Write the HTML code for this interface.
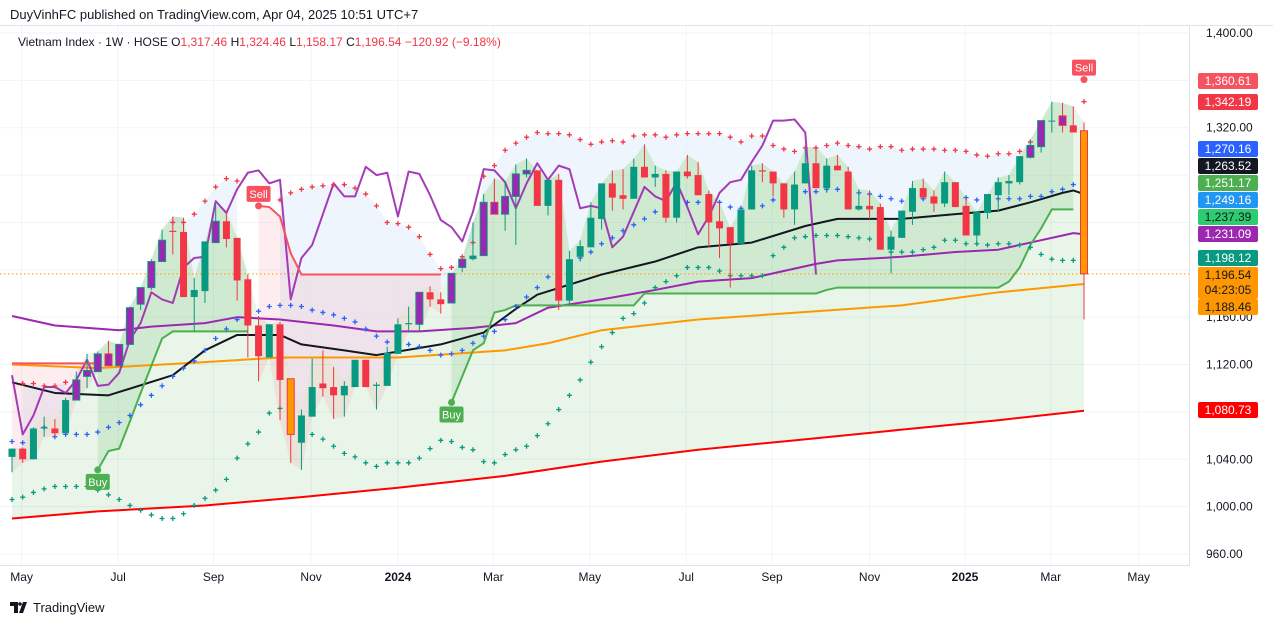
<!DOCTYPE html>
<html><head><meta charset="utf-8"><style>
html,body{margin:0;padding:0;background:#fff;}
body{width:1273px;height:626px;overflow:hidden;font-family:"Liberation Sans",sans-serif;}
svg text{font-family:"Liberation Sans",sans-serif;}
</style></head><body>
<svg id="chart" width="1273" height="626" viewBox="0 0 1273 626" xmlns="http://www.w3.org/2000/svg">
<rect x="0" y="0" width="1273" height="626" fill="#fff"/>
<text x="10" y="19" font-size="13" fill="#131722">DuyVinhFC published on TradingView.com, Apr 04, 2025 10:51 UTC+7</text>
<line x1="0" y1="25.5" x2="1273" y2="25.5" stroke="#e0e3eb"/>
<g id="grid"></g>
<g id="plot"></g>
<line x1="1189.5" y1="26" x2="1189.5" y2="566" stroke="#e0e3eb"/>
<line x1="0" y1="565.5" x2="1189" y2="565.5" stroke="#e0e3eb"/>
<g id="axes"></g>
<text x="18" y="46" font-size="12" fill="#131722">Vietnam Index · 1W · HOSE  <tspan>O</tspan><tspan fill="#f23645">1,317.46</tspan>  <tspan>H</tspan><tspan fill="#f23645">1,324.46</tspan>  <tspan>L</tspan><tspan fill="#f23645">1,158.17</tspan>  <tspan>C</tspan><tspan fill="#f23645">1,196.54  −120.92 (−9.18%)</tspan></text>
<g>
<path d="M10 602h8v11h-4v-7h-4z M19 613l4-11h4l-4 11z" fill="#131722"/>
<circle cx="20" cy="604" r="1.8" fill="#131722"/>
<text x="33" y="612" font-size="13" fill="#131722">TradingView</text>
</g>
</svg>
<script>
// ---------- DATA ----------
const opens=[1042,1049,1040,1066,1066,1062,1090,1110,1114,1129,
1119,1137,1171,1185,1207,1232,1232,1177,1182,1223,
1241,1227,1192,1153,1126,1154,1108,1054,1076,1104,
1101,1094,1101,1124,1102,1102,1129,1154,1154,1181,
1175,1172,1202,1209,1212,1257,1247,1262,1281,1284,
1254,1276,1174,1211,1219,1243,1273,1263,1260,1287,
1278,1281,1244,1283,1280,1264,1241,1236,1222,1251,
1284,1283,1273,1251,1273,1290,1269,1288,1283,1251,
1254,1253,1217,1227,1249,1269,1262,1256,1274,1254,
1229,1248,1263,1273,1274,1295,1304,1326,1330,1322,
1317.46];
const closes=[1049,1040,1066,1067,1062,1090,1107,1115,1129,1119,
1137,1168,1185,1207,1225,1233,1177,1183,1224,1241,
1226,1191,1153,1127,1154,1107,1061,1077,1101,1100,
1094,1102,1124,1101,1103,1130,1154,1155,1181,1175,
1171,1197,1209,1212,1257,1247,1262,1281,1284,1254,
1276,1174,1209,1220,1244,1273,1261,1260,1287,1278,
1281,1244,1283,1279,1263,1240,1235,1222,1251,1284,
1283,1273,1251,1272,1290,1269,1288,1284,1251,1254,
1251,1217,1228,1250,1269,1261,1256,1274,1253,1229,
1249,1264,1274,1275,1296,1305,1326,1326,1322,1316,
1196.54];
const highs=[1049,1050,1067,1076,1074,1092,1114,1129,1131,1140,
1137,1169,1185,1209,1234,1245,1244,1193,1224,1255,
1250,1227,1196,1161,1154,1156,1108,1082,1125,1132,
1118,1106,1124,1124,1105,1135,1159,1169,1181,1186,
1181,1197,1209,1240,1264,1277,1275,1289,1294,1284,
1276,1281,1216,1225,1257,1273,1284,1285,1294,1306,
1288,1284,1283,1297,1291,1267,1257,1236,1251,1288,
1290,1283,1273,1283,1303,1304,1294,1297,1287,1268,
1267,1256,1233,1250,1275,1277,1267,1283,1274,1261,
1249,1264,1278,1280,1296,1310,1326,1342,1341,1338,
1324.46];
const lows=[1029,1037,1040,1059,1059,1062,1090,1100,1114,1119,
1119,1137,1166,1183,1207,1213,1177,1148,1172,1223,
1219,1174,1126,1106,1126,1073,1037,1031,1076,1093,
1074,1076,1101,1101,1082,1102,1129,1147,1148,1169,
1163,1172,1198,1208,1212,1247,1233,1221,1278,1254,
1246,1166,1170,1207,1219,1234,1250,1251,1260,1278,
1270,1240,1240,1277,1263,1219,1210,1185,1222,1251,
1274,1262,1244,1238,1273,1269,1265,1284,1251,1250,
1243,1217,1197,1227,1238,1261,1249,1253,1253,1229,
1220,1243,1249,1263,1272,1294,1299,1316,1316,1316,
1158.17];
// candle highlight: g/r normal, p purple (up), q purple (down), o orange
const candleTypes=['g','r','g','g','r','g','p','p','p','q',
'p','p','p','p','p','r','r','g','g','p',
'r','r','r','r','g','r','o','g','g','r',
'r','g','g','r','g','g','g','g','p','r',
'r','p','p','g','p','q','p','p','p','r',
'g','r','g','g','g','g','r','r','g','r',
'g','r','g','r','r','r','r','r','g','g',
'r','r','r','g','g','r','g','r','r','g',
'r','r','g','g','g','r','r','g','r','r',
'g','g','g','g','g','p','p','g','q','r','o'];
const maLongIdx=[0,8,18,27,36,46,55,64,73,83,92,100];
const maLongVal=[990,996,1001,1008,1016,1026,1038,1048,1056,1065,1073,1081];
const maOrangeIdx=[0,8,18,25,36,46,50,55,64,75,83,92,100];
const maOrangeVal=[1120,1117,1122,1126,1126,1132,1138,1149,1158,1165,1170,1181,1188];
const maBlackIdx=[0,4,9,15,18,21,25,27,31,34,40,44,47,49,55,60,64,69,74,77,83,88,92,95,98,99,100];
const maBlackVal=[1105,1096,1094,1111,1132,1145,1145,1137,1132,1128,1137,1147,1167,1179,1196,1207,1219,1223,1237,1243,1243,1247,1250,1257,1265,1267,1264];
const maPurpleIdx=[0,4,10,13,18,21,25,30,34,38,43,47,50,55,60,64,69,75,77,83,88,92,95,98,99,100];
const maPurpleVal=[1161,1153,1149,1152,1155,1160,1158,1153,1148,1148,1151,1155,1168,1175,1183,1190,1193,1205,1208,1211,1215,1217,1223,1229,1231,1230];
const zigzagVal=[1111,1061,1077,1101,1101,1096,1107,1124,1102,1103,
1113,1141,1155,1181,1175,1172,1202,1210,1211,1258,
1248,1268,1282,1284,1273,1276,1175,1210,1221,1247,
1273,1262,1262,1287,1280,1282,1245,1283,1281,1263,
1242,1236,1224,1249,1285,1284,1274,1252,1273,1290,
1276,1288,1285,1252,1254,1252,1219,1228,1249,1270,
1262,1258,1274,1253,1230,1245,1265,1274,1276,1291,
1305,1326,1326,1327,1316,1196];
const N=null;
const stepDown=[1121,1121,1121,1121,1121,1121,1121,1121,1121,N,
N,N,N,N,N,N,N,N,N,N,
N,N,N,1254,1253,1245,1214,1196,1196,1196,
1196,1196,1196,1196,1196,1196,1196,1196,1196,1196,
1196,N,N,N,N,N,N,N,N,N,
N,N,N,N,N,N,N,N,N,N,N,N,N,N,N,N,N,N,N,N,
N,N,N,N,N,N,N,N,N,N,N,N,N,N,N,N,N,N,N,N,
N,N,N,N,N,N,N,N,N,N,N];
const stepUp=[N,N,N,N,N,N,N,N,1031,1047,
1049,1072,1096,1119,1142,1148,1148,1148,1148,1148,
1148,1148,1148,N,N,N,N,N,N,N,
N,N,N,N,N,N,N,N,N,N,
N,1088,1110,1132,1138,1164,1166,1170,1170,1170,
1170,1170,1170,1170,1170,1170,1170,1170,1170,1180,
1180,1180,1180,1180,1180,1180,1180,1180,1180,1180,
1180,1180,1180,1180,1180,1180,1183,1185,1185,1185,
1185,1185,1185,1185,1185,1185,1185,1185,1185,1185,
1185,1185,1185,1190,1202,1221,1235,1251,1251,1251,N];
const upperDots=[N,1104,1104,1102,1102,1105,N,N,N,N,
N,N,N,N,N,1240,1240,1247,1258,1270,
1277,1275,N,N,N,1259,1265,1268,1270,1271,
1272,1272,1269,1264,1254,1240,1239,1236,1228,1213,
1201,1202,1211,1223,1279,1288,1301,1307,1312,1316,
1315,1315,1314,1310,1306,1308,1309,1308,1313,1314,
1314,1312,1314,1315,1315,1315,1315,1312,1308,1313,
1313,1305,1302,1300,1303,1303,1305,1307,1305,1304,
1302,1304,1304,1301,1302,1302,1302,1301,1301,1300,
1297,1296,1298,1298,1300,1308,N,N,N,N,1342];
const midDots=[1055,1054,1060,1067,1059,1061,1061,1061,1063,1067,
1071,1077,1086,1094,1102,1110,1117,1123,1132,1142,
1150,1158,1162,1165,1169,1170,1170,1169,1166,1164,
1162,1159,1156,1150,1144,1139,1137,1137,1135,1132,
1128,1129,1132,1138,1144,1148,1158,1169,1177,1185,
1194,1200,1205,1210,1215,1222,1227,1233,1238,1243,
1249,1253,1256,1257,1257,1257,1257,1253,1252,1253,
1254,1259,1262,1264,1266,1266,1268,1268,1267,1265,
1264,1262,1260,1258,1259,1260,1260,1260,1261,1261,
1259,1260,1260,1260,1260,1262,1262,1266,1268,1272,N];
const lowDots=[1006,1008,1012,1015,1017,1017,1017,1017,1014,1010,
1006,1001,997,993,990,990,994,1001,1007,1014,
1023,1041,1053,1063,1079,1083,1069,1065,1061,1057,
1051,1045,1042,1037,1034,1037,1037,1037,1041,1049,
1056,1055,1050,1048,1038,1037,1044,1048,1051,1060,
1070,1082,1094,1107,1122,1135,1147,1159,1163,1172,
1185,1190,1195,1202,1202,1202,1199,1195,1195,1195,
1195,1212,1219,1227,1228,1229,1229,1229,1228,1227,
1226,1221,1215,1215,1215,1217,1219,1225,1225,1222,
1222,1221,1222,1222,1221,1219,1213,1209,1208,1208,N];
const signalTypes=['Buy','Sell','Buy','Sell'];
const signalIdx=[8,23,41,100];
const signalPrice=[1031,1254,1088,1360.61];
const priceTicks=[1400,1320,1160,1120,1040,1000,960];
const gridPrices=[1400,1360,1320,1280,1240,1200,1160,1120,1080,1040,1000,960];
const monthLabels=['May','Jul','Sep','Nov','2024','Mar','May','Jul','Sep','Nov','2025','Mar','May'];
const monthIdx=[0.9,9.9,18.8,27.9,36,44.9,53.9,62.9,70.9,80,88.9,96.9,105.1];
const tagPrices=[1360.61,1342.19,1270.16,1263.52,1251.17,1249.16,1237.39,1231.09,1198.12,1188.46,1080.73];
const tagColors=['#f7525f','#f23645','#2962ff','#131722','#4caf50','#2196f3','#2ecc71','#9c27b0','#089981','#ff9800','#f00'];
const tagTextColors=['#fff','#fff','#fff','#fff','#fff','#fff','#131722','#fff','#fff','#131722','#fff'];
const tagY=[81,102,149,166,183,200,217,234,258,307,410];
const lastPrice=1196.54;

// ---------- SCALES ----------
const NS='http://www.w3.org/2000/svg';
function X(i){return 12+i*10.72;}
function Y(p){return 33+(1400-p)*1.1841;}
const plot=document.getElementById('plot');
const grid=document.getElementById('grid');
const axes=document.getElementById('axes');
function mk(tag,attrs,parent){const e=document.createElementNS(NS,tag);for(const k in attrs)e.setAttribute(k,attrs[k]);(parent||plot).appendChild(e);return e;}
function interp(idx,val,i){for(let k=0;k<idx.length-1;k++){if(i>=idx[k]&&i<=idx[k+1]){const t=(i-idx[k])/(idx[k+1]-idx[k]);return val[k]+t*(val[k+1]-val[k]);}}return val[val.length-1];}
function segments(arr){const segs=[];let cur=[];arr.forEach((v,i)=>{if(v===null){if(cur.length)segs.push(cur);cur=[];}else cur.push(i);});if(cur.length)segs.push(cur);return segs;}

// grid
gridPrices.forEach(p=>{const l=mk('line',{x1:0,x2:1189,y1:Y(p),y2:Y(p),stroke:'#f0f3fa'},grid);

});
monthIdx.forEach(i=>{const l=mk('line',{x1:X(i),x2:X(i),y1:26,y2:565,stroke:'#f0f3fa'},grid);

});

// blue cloud (upper dots to highs)
segments(upperDots).forEach(s=>{if(s.length<2)return;let pts=s.map(i=>X(i)+','+Y(upperDots[i]));pts=pts.concat(s.slice().reverse().map(i=>X(i)+','+Y(highs[i])));
const pg=mk('polygon',{points:pts.join(' '),fill:'#eaf2fb',opacity:0.75});

});
// light green fill highs -> long MA
{const all=highs.map((h,i)=>i);let pts=all.map(i=>X(i)+','+Y(highs[i]));pts=pts.concat(all.slice().reverse().map(i=>X(i)+','+Y(interp(maLongIdx,maLongVal,i))));
const pg=mk('polygon',{points:pts.join(' '),fill:'rgba(76,175,80,0.13)'});

}
// darker green between highs and step-up
segments(stepUp).forEach(s=>{let pts=s.map(i=>X(i)+','+Y(highs[i]));pts=pts.concat(s.slice().reverse().map(i=>X(i)+','+Y(stepUp[i])));
const pg=mk('polygon',{points:pts.join(' '),fill:'rgba(76,175,80,0.15)'});

});
// pink between step-down and lows
segments(stepDown).forEach(s=>{let pts=s.map(i=>X(i)+','+Y(stepDown[i]));pts=pts.concat(s.slice().reverse().map(i=>X(i)+','+Y(Math.min(lows[i],stepDown[i]))));
const pg=mk('polygon',{points:pts.join(' '),fill:'rgba(242,54,69,0.09)'});

});

// last price dotted line
{const l=mk('line',{x1:0,x2:1189,y1:Y(lastPrice),y2:Y(lastPrice),stroke:'#ff9800','stroke-dasharray':'1.5,2.5'});

}

function sparseLine(idx,val,color,w,name){const pts=idx.map((i,k)=>X(i)+','+Y(val[k])).join(' ');
const pl=mk('polyline',{points:pts,fill:'none',stroke:color,'stroke-width':w,'stroke-linejoin':'round'});

}
sparseLine(maLongIdx,maLongVal,'#f00',2,'ma-long-red');
sparseLine(maOrangeIdx,maOrangeVal,'#ff9800',2,'ma-orange');
sparseLine(maPurpleIdx,maPurpleVal,'#9c27b0',2,'ma-purple');
sparseLine(maBlackIdx,maBlackVal,'#131722',2,'ma-black');
{const pts=zigzagVal.map((v,i)=>X(i)+','+Y(v)).join(' ');
const pl=mk('polyline',{points:pts,fill:'none',stroke:'#9c27b0','stroke-width':2,opacity:0.9,'stroke-linejoin':'round'});

}
segments(stepUp).forEach(s=>{const pl=mk('polyline',{points:s.map(i=>X(i)+','+Y(stepUp[i])).join(' '),fill:'none',stroke:'#4caf50','stroke-width':2});

});
segments(stepDown).forEach(s=>{const pl=mk('polyline',{points:s.map(i=>X(i)+','+Y(stepDown[i])).join(' '),fill:'none',stroke:'#f7525f','stroke-width':2});

});

function crosses(arr,color,name){arr.forEach((v,i)=>{if(v===null)return;const cx=X(i),cy=Y(v);
const p=mk('path',{d:`M${cx-2.5} ${cy}h5M${cx} ${cy-2.5}v5`,stroke:color,'stroke-width':1.3});

});}
crosses(lowDots,'#089981','lower-dot');
crosses(midDots,'#2962ff','middle-dot');
crosses(upperDots,'#f23645','upper-dot');

// candles
const fills={g:'#089981',r:'#f23645',p:'#9c27b0',q:'#9c27b0',o:'#ff9800'};
const borders={g:'#089981',r:'#f23645',p:'#089981',q:'#f23645',o:'#f23645'};
opens.forEach((o,i)=>{const c=closes[i],t=candleTypes[i];const cx=X(i);const wick=(t==='g'||t==='p')?'#089981':'#f23645';
const w=mk('line',{x1:cx,x2:cx,y1:Y(highs[i]),y2:Y(lows[i]),stroke:wick,'stroke-width':1});


const top=Y(Math.max(o,c)),bot=Y(Math.min(o,c));
const b=mk('rect',{x:cx-3.5,y:top,width:7,height:Math.max(1,bot-top),fill:fills[t],stroke:borders[t],'stroke-width':(t==='g'||t==='r')?0:1});

});

// signals
signalTypes.forEach((s,k)=>{const cx=X(signalIdx[k]),cy=Y(signalPrice[k]);const col=s==='Buy'?'#4caf50':'#f7525f';
const g=mk('g',{});


mk('circle',{cx:cx,cy:cy,r:3.5,fill:col},g);
const by=s==='Buy'?cy+4:cy-20;
mk('rect',{x:cx-12,y:by,width:24,height:16,rx:2,fill:col},g);
const tx=mk('text',{x:cx,y:by+12,'font-size':11,fill:'#fff','text-anchor':'middle'},g);tx.textContent=s;});

// axes
priceTicks.forEach(p=>{const t=mk('text',{x:1206,y:Y(p)+4,'font-size':12,fill:'#131722'},axes);t.textContent=p.toLocaleString('en-US',{minimumFractionDigits:2});

});
monthLabels.forEach((m,k)=>{const bold=/^\d/.test(m);const t=mk('text',{x:X(monthIdx[k]),y:581,'font-size':12,fill:'#131722','text-anchor':'middle','font-weight':bold?'bold':'normal'},axes);t.textContent=m;

});
tagPrices.forEach((p,k)=>{const g=mk('g',{},axes);


const h=(k===9)?16:16;mk('rect',{x:1198,y:tagY[k]-8,width:60,height:h,rx:2,fill:tagColors[k]},g);
const t=mk('text',{x:1228,y:tagY[k]+4,'font-size':12,fill:tagTextColors[k],'text-anchor':'middle'},g);t.textContent=p.toLocaleString('en-US',{minimumFractionDigits:2});});
{const g=mk('g',{},axes);


mk('rect',{x:1198,y:267,width:60,height:32,rx:2,fill:'#ff9800'},g);
const t1=mk('text',{x:1228,y:279,'font-size':12,fill:'#131722','text-anchor':'middle'},g);t1.textContent=lastPrice.toLocaleString('en-US',{minimumFractionDigits:2});
const t2=mk('text',{x:1228,y:294,'font-size':12,fill:'#131722','text-anchor':'middle'},g);t2.textContent='04:23:05';}
</script>
</body></html>
